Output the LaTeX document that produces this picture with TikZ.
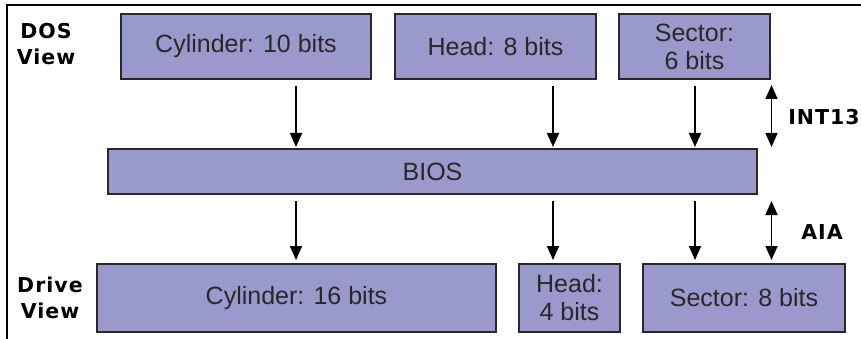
\documentclass[tikz,border=0pt]{standalone}
\usepackage{fontspec}
\setmainfont{Liberation Sans}
\newfontfamily\tagfont{DejaVu Sans}[LetterSpace=5]
\usetikzlibrary{arrows.meta}
\definecolor{boxfill}{RGB}{153,153,204}
\definecolor{ink}{RGB}{40,40,40}
\tikzset{
  field/.style={draw=ink, line width=1.6pt, fill=boxfill, inner sep=0pt, outer sep=0pt,
    align=center, text=ink, font=\fontsize{25}{28}\selectfont},
  flow/.style={line width=1.7pt, -{Triangle[width=12pt,length=14pt]}},
  both/.style={line width=1.7pt, {Triangle[width=12pt,length=14pt]}-{Triangle[width=12pt,length=14pt]}},
  tag/.style={align=center, text=black, inner sep=0pt,
    font=\tagfont\bfseries\fontsize{20.5}{26}\selectfont}
}
\begin{document}
\begin{tikzpicture}[x=1pt,y=-1pt]
\useasboundingbox (0,0) rectangle (861,339);
\fill[white] (0,0) rectangle (861,339);
% frame (top and left edges)
\draw[line width=1.6pt, black] (7,339) -- (7,5) -- (861,5);

% top row
\node[field, minimum width=250pt, minimum height=65pt] (cyl10) at (246,46.5) {Cylinder: 10 bits};
\node[field, minimum width=201pt, minimum height=65pt] (head8) at (495.5,46.5) {Head: 8 bits};
\node[field, minimum width=151pt, minimum height=65pt] (sec6) at (694.5,46.5) {Sector:\\6 bits};
% BIOS
\node[field, minimum width=649pt, minimum height=45pt] (bios) at (432.5,171.5) {BIOS};
% bottom row
\node[field, minimum width=399pt, minimum height=68pt] (cyl16) at (296.5,298) {Cylinder: 16 bits};
\node[field, minimum width=101pt, minimum height=68pt] (head4) at (569.5,298) {Head:\\4 bits};
\node[field, minimum width=202pt, minimum height=68pt] (sec8) at (744,298) {Sector: 8 bits};

% labels
\node[tag] (dos) at (46,44) {DOS\\View};
\node[tag] (drive) at (50,298) {Drive\\View};
\node[tag] (int) at (824,117) {INT13};
\node[tag] (aia) at (822,232) {AIA};

% arrow columns
\coordinate (ca) at (296,0);
\coordinate (cb) at (553,0);
\coordinate (cc) at (695,0);
\coordinate (cd) at (771.5,0);

\draw[flow, shorten <=7pt, shorten >=2pt] (cyl10.south -| ca) -- (bios.north -| ca);
\draw[flow, shorten <=7pt, shorten >=2pt] (head8.south -| cb) -- (bios.north -| cb);
\draw[flow, shorten <=7pt, shorten >=2pt] (sec6.south -| cc) -- (bios.north -| cc);
\draw[flow, shorten <=7pt, shorten >=4pt] (bios.south -| ca) -- (cyl16.north -| ca);
\draw[flow, shorten <=7pt, shorten >=4pt] (bios.south -| cb) -- (head4.north -| cb);
\draw[flow, shorten <=7pt, shorten >=4pt] (bios.south -| cc) -- (sec8.north -| cc);

\draw[both, shorten <=6pt, shorten >=2pt] (sec6.south -| cd) -- (bios.north -| cd);
\draw[both, shorten <=7pt, shorten >=4pt] (bios.south -| cd) -- (sec8.north -| cd);
\end{tikzpicture}
\end{document}
